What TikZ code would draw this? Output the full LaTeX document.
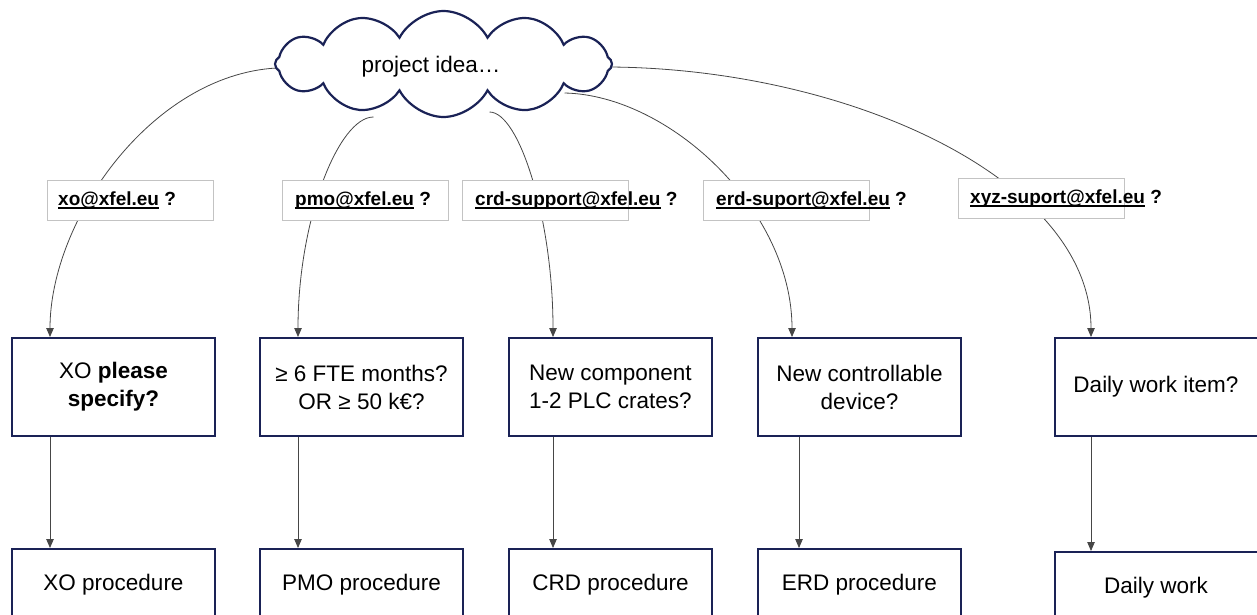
\documentclass[tikz,border=0pt]{standalone}
\usepackage{fontspec}
\setmainfont{Liberation Sans}
\usetikzlibrary{shapes.symbols,arrows.meta,calc,backgrounds}
\definecolor{navy}{RGB}{26,34,86}
\definecolor{boxgray}{RGB}{195,195,195}
\definecolor{linegray}{RGB}{70,70,70}
\newcommand\mailu[1]{\setbox0=\hbox{#1}\rlap{\rule[-3.5pt]{\wd0}{1.8pt}}\box0\relax}
\begin{document}
\begin{tikzpicture}[x=1pt,y=-1pt,
 decbox/.style={draw=navy,line width=2pt,minimum width=203pt,minimum height=98pt,align=center,
   font=\fontsize{22.5}{28}\selectfont,fill=white,inner sep=0pt},
 procbox/.style={decbox,minimum height=72pt},
 mailbox/.style={draw=boxgray,line width=0.8pt,minimum width=166pt,minimum height=40pt,fill=white,inner sep=0pt},
 mailtext/.style={anchor=base west,font=\fontsize{19}{22}\selectfont\bfseries,inner sep=0pt},
 conn/.style={draw=linegray,line width=0.8pt,-{Triangle[length=9pt,width=7.5pt]}},
 cloudshape/.style={cloud,draw=navy,line width=2.2pt,fill=white,cloud puffs=12,cloud puff arc=125,
   aspect=3.1,cloud ignores aspect,minimum width=337pt,minimum height=106pt,inner sep=0pt},
 cloudtext/.style={font=\fontsize{22.5}{26}\selectfont,inner sep=0pt}
]
\useasboundingbox (0,0) rectangle (1257,614);

% cloud
\node[cloudshape] (cloud) at (443.5,64) {};
\node[cloudtext] (idea) at (431,67) {project idea\ldots};

% decision boxes
\node[decbox] (dxo)  at (113.5,387) {XO \textbf{please}\\\textbf{specify?}};
\node[decbox] (dpmo) at (361.5,387) {≥ 6 FTE months?\\OR ≥ 50 k€?};
\node[decbox] (dcrd) at (610.5,387) {New component\\1-2 PLC crates?};
\node[decbox] (derd) at (859.5,387) {New controllable\\device?};
\node[decbox] (dday) at (1156,387) {Daily work item?};

% procedure boxes
\node[procbox] (pxo)  at (113.5,585) {XO procedure};
\node[procbox] (ppmo) at (361.5,585) {PMO procedure};
\node[procbox] (pcrd) at (610.5,585) {CRD procedure};
\node[procbox] (perd) at (859.5,585) {ERD procedure};
\node[procbox] (pday) at (1156,588) {Daily work};

% start points on the cloud
\coordinate (s1) at ($(cloud.center)+(-167,4)$);
\coordinate (s2) at ($(cloud.center)+(-70,53)$);
\coordinate (s3) at ($(cloud.center)+(46,48)$);
\coordinate (s4) at ($(cloud.center)+(121,29)$);
\coordinate (s5) at ($(cloud.center)+(167,3)$);

\begin{scope}[on background layer]
\draw[conn] (s1) .. controls +(-125,7) and +(0,-117) .. ([xshift=-63.5pt]dxo.north);
\draw[conn] (s2) .. controls +(-35,0) and +(0,-117) .. ([xshift=-63.5pt]dpmo.north);
\draw[conn] (s3) .. controls +(30,0) and +(0,-117) .. ([xshift=-57.5pt]dcrd.north);
\draw[conn] (s4) .. controls +(105,2) and +(0,-127) .. ([xshift=-67.5pt]derd.north);
\draw[conn] (s5) .. controls +(240,2) and +(0,-157) .. ([xshift=-65pt]dday.north);
\end{scope}

% mail label boxes
\node[mailbox] (mxo)  at (130,200) {};
\node[mailbox] (mpmo) at (365,200) {};
\node[mailbox] (mcrd) at (545,200) {};
\node[mailbox] (merd) at (786.5,200.5) {};
\node[mailbox] (mxyz) at (1041.5,198.5) {};
\node[mailtext] (txo)  at (58,205)  {\mailu{xo@xfel.eu} ?};
\node[mailtext] (tpmo) at (295,205) {\mailu{pmo@xfel.eu} ?};
\node[mailtext] (tcrd) at (475,205) {\mailu{crd-support@xfel.eu} ?};
\node[mailtext] (terd) at (716,205) {\mailu{erd-suport@xfel.eu} ?};
\node[mailtext] (txyz) at (970,203) {\mailu{xyz-suport@xfel.eu} ?};

% vertical connectors
\draw[conn] ([xshift=-63.5pt]dxo.south) -- ([xshift=-63.5pt]pxo.north);
\draw[conn] ([xshift=-63.5pt]dpmo.south) -- ([xshift=-63.5pt]ppmo.north);
\draw[conn] ([xshift=-57.5pt]dcrd.south) -- ([xshift=-57.5pt]pcrd.north);
\draw[conn] ([xshift=-60.5pt]derd.south) -- ([xshift=-60.5pt]perd.north);
\draw[conn] ([xshift=-65pt]dday.south) -- ([xshift=-65pt]pday.north);
\end{tikzpicture}
\end{document}
